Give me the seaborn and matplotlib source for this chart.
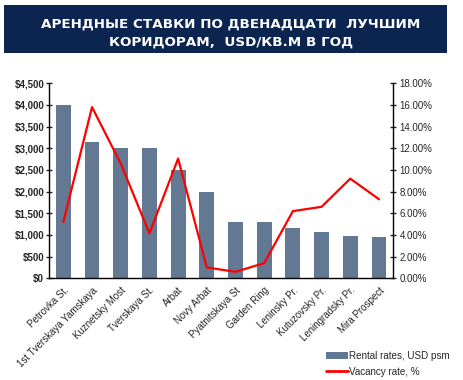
import matplotlib
matplotlib.use("Agg")
import matplotlib.pyplot as plt
import matplotlib.ticker as mticker
from matplotlib.patches import Rectangle, Patch
from matplotlib.lines import Line2D
import seaborn as sns
import pandas as pd

corridors = ["Petrovka St.", "1st Tverskaya Yamskaya", "Kuznetsky Most", "Tverskaya St.",
             "Arbat", "Novy Arbat", "Pyatnitskaya St", "Garden Ring", "Leninsky Pr.",
             "Kutuzovsky Pr.", "Leningradsky Pr.", "Mira Prospect"]
rental = [4000, 3150, 3000, 3000, 2500, 2000, 1310, 1290, 1150, 1075, 965, 945]
vacancy = [5.2, 15.8, 10.6, 4.15, 11.05, 1.0, 0.6, 1.4, 6.2, 6.6, 9.2, 7.3]

title_lines = "АРЕНДНЫЕ СТАВКИ ПО ДВЕНАДЦАТИ  ЛУЧШИМ\nКОРИДОРАМ,  USD/КВ.М В ГОД"

df = pd.DataFrame({"corridor": corridors, "rental": rental, "vacancy": vacancy})

sns.set_style("white")
plt.rcParams["font.family"] = ["Liberation Sans", "DejaVu Sans"]

fig = plt.figure(figsize=(4.63, 3.8), dpi=100)
ax = fig.add_axes([0.1058, 0.2676, 0.7437, 0.5132])

bar_color = "#637892"
sns.barplot(data=df, x="corridor", y="rental", color=bar_color, width=0.52,
            saturation=1, ax=ax, edgecolor="none")
ax.set_xlim(-0.5, 11.5)
ax.set_ylim(0, 4500)
ax.yaxis.set_major_locator(mticker.MultipleLocator(500))
ax.yaxis.set_major_formatter(mticker.FuncFormatter(lambda v, p: f"${int(v):,}"))
ax.set_xlabel("")
ax.set_ylabel("")
for s in ["top", "right"]:
    ax.spines[s].set_visible(False)
for s in ["left", "bottom"]:
    ax.spines[s].set_color("black")
    ax.spines[s].set_linewidth(1.0)
ax.tick_params(axis="y", direction="inout", length=5, width=1, labelsize=7, pad=1)
for lbl in ax.get_yticklabels():
    lbl.set_fontweight("bold")
ax.set_xticks(range(len(corridors)))
ax.set_xticklabels(corridors, rotation=45, ha="right", rotation_mode="anchor", fontsize=7)
ax.set_xticks([i + 0.5 for i in range(-1, len(corridors))], minor=True)
ax.tick_params(axis="x", which="major", length=0, pad=5)
ax.tick_params(axis="x", which="minor", direction="inout", length=6, width=1)

ax2 = ax.twinx()
sns.lineplot(x=list(range(len(corridors))), y=df["vacancy"], color="#ff0000",
             linewidth=1.6, ax=ax2)
ax2.set_ylim(0, 18)
ax2.set_xlim(-0.5, 11.5)
ax2.yaxis.set_major_locator(mticker.MultipleLocator(2))
ax2.yaxis.set_major_formatter(mticker.FuncFormatter(lambda v, p: f"{v:.2f}%"))
ax2.set_ylabel("")
for s in ["top", "left", "bottom"]:
    ax2.spines[s].set_visible(False)
ax2.spines["right"].set_color("black")
ax2.spines["right"].set_linewidth(1.0)
ax2.tick_params(axis="y", direction="inout", length=5, width=1, labelsize=7, pad=2)

# Title banner
fig.patches.append(Rectangle((4 / 463, 1 - 53 / 380), 443 / 463, 48 / 380,
                             transform=fig.transFigure, facecolor="#0c2550",
                             edgecolor="none", zorder=0))
fig.text(231 / 463, 1 - 33 / 380, title_lines, ha="center", va="center",
         color="white", fontsize=9.7, fontweight="bold", linespacing=1.5,
         family=["DejaVu Sans"])

handles = [Patch(facecolor=bar_color, edgecolor="none"),
           Line2D([0], [0], color="#ff0000", linewidth=2)]
fig.legend(handles, ["Rental rates, USD psm", "Vacancy rate, %"],
           loc="upper left", bbox_to_anchor=(326 / 463, 1 - 351 / 380),
           frameon=False, fontsize=7.1, handlelength=2.2, handletextpad=0.1,
           labelspacing=0.6, borderpad=0, borderaxespad=0)

fig.savefig("out.png", dpi=100)
